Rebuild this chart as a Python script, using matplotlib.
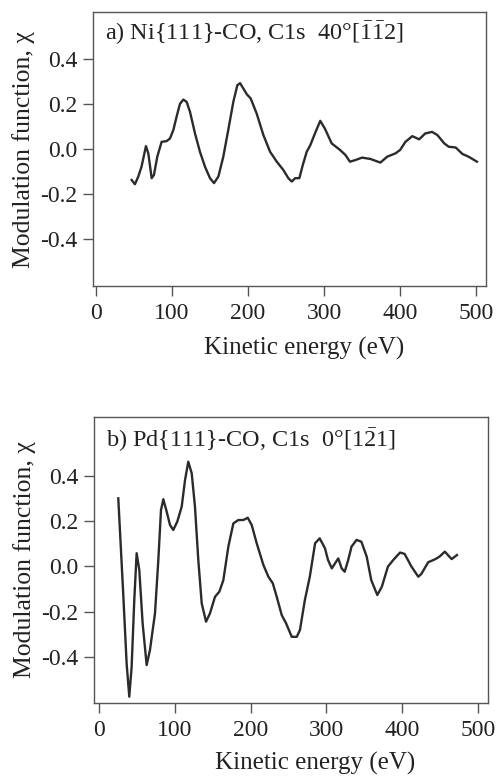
import matplotlib
matplotlib.use("Agg")
import matplotlib.pyplot as plt
from matplotlib.ticker import FuncFormatter

plt.rcParams['font.family'] = ['Liberation Serif', 'DejaVu Serif']
plt.rcParams['mathtext.fontset'] = 'custom'
plt.rcParams['mathtext.rm'] = 'Liberation Serif'

# a) Ni{111}-CO, C1s, 40° along [-1-12]
ni_energy = [47, 51.3, 55.7, 60, 65.8, 68.9, 73.3, 76.3, 80.7, 86.4, 93, 97.4,
             101.8, 106, 110.5, 114.9, 119.3, 123.7, 130.3, 136.8, 143.4, 150,
             155.3, 161, 167.5, 174, 180.7, 185.9, 189.5, 193.9, 198.3, 203.5,
             211.4, 220.2, 229, 237.8, 246.5, 253, 257.5, 262, 267.5, 272,
             277.2, 282, 288, 295, 301, 310, 321, 328, 334, 341, 350, 361, 374,
             383, 394, 400, 407, 416, 425, 433, 442, 449, 458, 464, 473, 482,
             490, 501]
ni_chi = [-0.137, -0.156, -0.122, -0.078, 0.013, -0.019, -0.129, -0.115, -0.034,
          0.032, 0.035, 0.047, 0.084, 0.142, 0.200, 0.219, 0.209, 0.165, 0.069,
          -0.012, -0.078, -0.129, -0.151, -0.122, -0.034, 0.084, 0.209, 0.282,
          0.292, 0.268, 0.243, 0.224, 0.157, 0.062, -0.012, -0.056, -0.093,
          -0.129, -0.144, -0.129, -0.129, -0.071, -0.012, 0.018, 0.069, 0.125,
          0.091, 0.025, -0.004, -0.026, -0.056, -0.049, -0.038, -0.044, -0.060,
          -0.034, -0.019, -0.004, 0.032, 0.057, 0.043, 0.069, 0.076, 0.062,
          0.025, 0.010, 0.007, -0.022, -0.034, -0.056]

# b) Pd{111}-CO, C1s, 0° along [1-21]
pd_energy = [25.5, 32, 36.5, 40, 43.1, 46.6, 49.7, 53.2, 57.6, 62.9, 67.3, 73.9,
             78.3, 81.8, 84.9, 89.3, 93.7, 98, 103.3, 109.1, 113.5, 117.8, 122.3,
             126.6, 131, 135.5, 141.2, 146.4, 153, 158.8, 164, 170.6, 177.2,
             183.8, 190.4, 196.2, 201.4, 208, 216.8, 223.4, 229.2, 234.4, 241,
             246.7, 254.2, 260.8, 265, 271.5, 278, 285, 291, 298, 302, 307,
             315.5, 320, 324, 328.6, 333, 339.6, 346, 353, 359, 367, 373, 381,
             388, 397, 403, 412, 421, 425, 434, 443, 449, 456, 465, 472]
pd_chi = [0.301, -0.120, -0.430, -0.577, -0.445, -0.149, 0.058, -0.016, -0.252,
          -0.437, -0.370, -0.208, 0.028, 0.249, 0.297, 0.242, 0.183, 0.161,
          0.198, 0.264, 0.382, 0.463, 0.412, 0.264, 0.028, -0.164, -0.245,
          -0.208, -0.135, -0.112, -0.061, 0.087, 0.190, 0.205, 0.205, 0.215,
          0.183, 0.102, 0.006, -0.046, -0.075, -0.135, -0.216, -0.252, -0.312,
          -0.312, -0.282, -0.149, -0.046, 0.102, 0.124, 0.080, 0.028, -0.009,
          0.035, -0.009, -0.024, 0.028, 0.087, 0.117, 0.109, 0.043, -0.061,
          -0.127, -0.090, -0.001, 0.028, 0.061, 0.055, -0.001, -0.046, -0.034,
          0.018, 0.031, 0.043, 0.065, 0.032, 0.050]

x_ticks = [0, 100, 200, 300, 400, 500]
y_ticks = [-0.4, -0.2, 0.0, 0.2, 0.4]

line_color = '#2b2b2b'
frame_color = '#555555'
text_color = '#222222'

fig = plt.figure(figsize=(4.97, 7.78), dpi=100)
ax_a = fig.add_axes([0.187, 0.632, 0.791, 0.352])
ax_b = fig.add_axes([0.189, 0.0964, 0.793, 0.3676])

panels = [
    (ax_a, ni_energy, ni_chi, (-3.9, 513), (-0.608, 0.605),
     r'a) Ni{111}-CO, C1s  40°$\mathrm{[\bar{1}\bar{1}2]}$', 0.923, (0.536, -0.186)),
    (ax_b, pd_energy, pd_chi, (-6.6, 513), (-0.605, 0.661),
     r'b) Pd{111}-CO, C1s  0°$\mathrm{[1\bar{2}1]}$', 0.92, (0.561, -0.172)),
]

for ax, energy, chi, xlim, ylim, title, title_y, xlab_pos in panels:
    ax.plot(energy, chi, color=line_color, lw=1.7, solid_joinstyle='round')
    ax.set_xlim(*xlim)
    ax.set_ylim(*ylim)
    ax.set_xticks(x_ticks)
    ax.set_yticks(y_ticks)
    ax.yaxis.set_major_formatter(FuncFormatter(lambda v, p: f'{v:.1f}'))
    ax.tick_params(direction='out', length=7, width=1, colors=frame_color,
                   labelcolor=text_color, labelsize=17)
    ax.tick_params(axis='x', pad=5)
    ax.tick_params(axis='y', pad=4)
    for s in ax.spines.values():
        s.set_color(frame_color)
        s.set_linewidth(1.0)
    ax.set_ylabel('Modulation function, χ', fontsize=18.5, color=text_color, labelpad=4)
    ax.set_xlabel('Kinetic energy (eV)', fontsize=18, color=text_color)
    ax.xaxis.set_label_coords(*xlab_pos)
    ax.text(0.03, title_y, title, transform=ax.transAxes, fontsize=17.5,
            color=text_color, va='center', ha='left')

fig.savefig('out.png', dpi=100)
